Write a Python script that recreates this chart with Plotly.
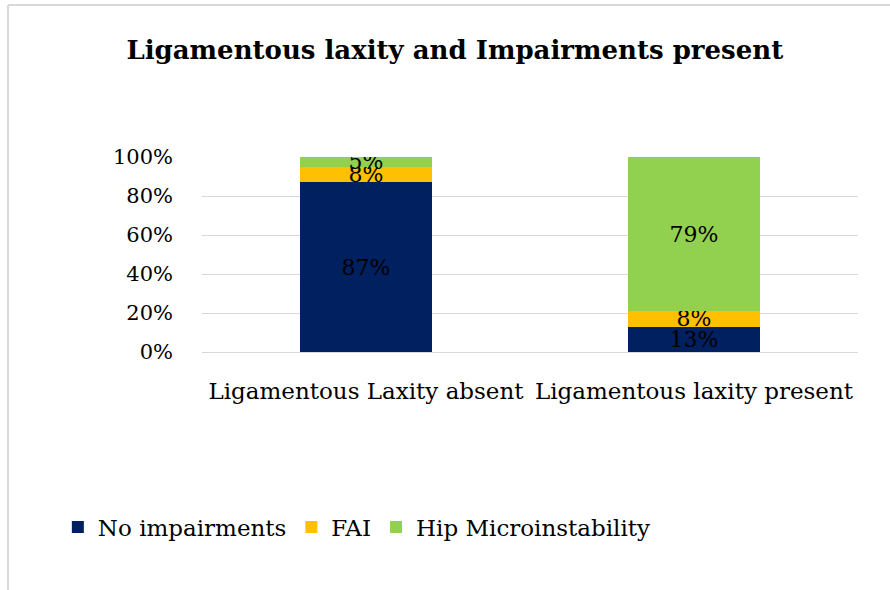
import plotly.graph_objects as go

# categories and shares (fractions of each group)
groups = ["Ligamentous Laxity absent", "Ligamentous laxity present"]
no_impairments = [0.87, 0.13]
fai = [0.08, 0.08]
hip_micro = [0.05, 0.79]

series = [
    ("No impairments", no_impairments, "#002060"),
    ("FAI", fai, "#FFC000"),
    ("Hip Microinstability", hip_micro, "#92D050"),
]

FONT = "DejaVu Serif, serif"

fig = go.Figure()
for name, vals, color in series:
    fig.add_trace(go.Bar(
        x=groups, y=vals, name=name,
        marker=dict(color=color, line=dict(width=0)),
        text=[f"{v:.0%}" for v in vals],
        textposition="inside",
        insidetextanchor="middle",
        textangle=0,
        textfont=dict(color="black", size=22, family=FONT),
    ))

fig.update_layout(
    barmode="stack",
    bargap=0.6,
    width=890, height=590,
    margin=dict(l=202, r=32, t=157, b=238),
    paper_bgcolor="white",
    plot_bgcolor="white",
    font=dict(family=FONT, color="black", size=21),
    uniformtext=dict(minsize=22, mode="show"),
    title=dict(
        text="<b>Ligamentous laxity and Impairments present</b>",
        x=0.511, xanchor="center", y=1 - 50 / 590, yanchor="middle",
        font=dict(size=26, family=FONT, color="black"),
    ),
    legend=dict(
        orientation="h", xref="container", yref="container",
        x=0.065, y=1 - 527 / 590, xanchor="left", yanchor="middle",
        font=dict(size=23, family=FONT), traceorder="normal",
        itemwidth=30,
    ),
    shapes=[
        dict(type="line", xref="paper", yref="paper",
             x0=-194 / 656, x1=1.2, y0=(590 - 238 - 5) / 195, y1=(590 - 238 - 5) / 195,
             line=dict(color="#d9d9d9", width=2)),
        dict(type="line", xref="paper", yref="paper",
             x0=-194 / 656, x1=-194 / 656, y0=(590 - 238 - 5) / 195, y1=-2,
             line=dict(color="#d9d9d9", width=2)),
    ],
)

fig.update_yaxes(
    range=[0, 1], dtick=0.2, tickformat=".0%",
    showgrid=True, gridcolor="#d9d9d9", gridwidth=1,
    zeroline=False, showline=False,
    ticklabelstandoff=28,
    tickfont=dict(size=21, family=FONT),
)
fig.update_xaxes(
    showline=True, linecolor="#d9d9d9", linewidth=1,
    ticks="", ticklabelstandoff=18, tickangle=0,
    tickfont=dict(size=23, family=FONT),
)

# page has a default 8px body margin; drop it so the figure sits at the corner
fig.write_html("out.html", config={"displayModeBar": False},
               post_script="document.body.style.margin='0px';")
